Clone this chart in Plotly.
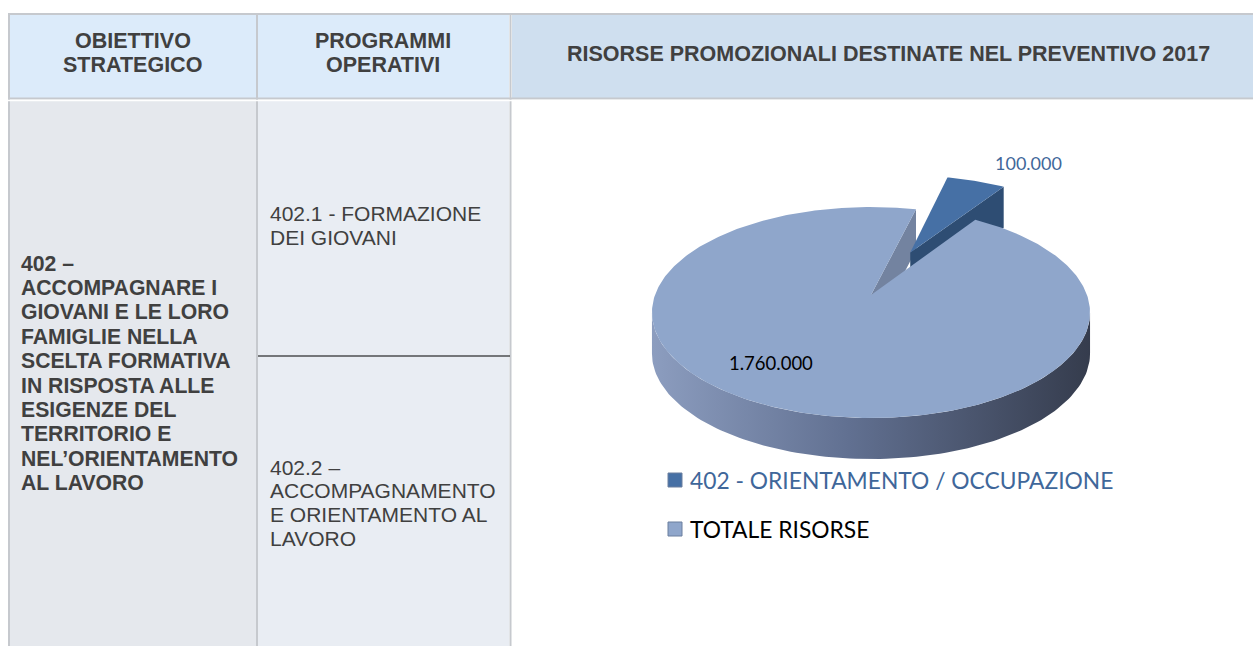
import numpy as np
import plotly.graph_objects as go

# ---------------- data ----------------
header_col1 = ["OBIETTIVO", "STRATEGICO"]
header_col2 = ["PROGRAMMI", "OPERATIVI"]
header_col3 = "RISORSE PROMOZIONALI DESTINATE NEL PREVENTIVO 2017"
objective_lines = ["402 –", "ACCOMPAGNARE I", "GIOVANI E LE LORO", "FAMIGLIE NELLA",
                   "SCELTA FORMATIVA", "IN RISPOSTA ALLE", "ESIGENZE DEL",
                   "TERRITORIO E", "NEL’ORIENTAMENTO", "AL LAVORO"]
program1_lines = ["402.1 - FORMAZIONE", "DEI GIOVANI"]
program2_lines = ["402.2 –", "ACCOMPAGNAMENTO", "E ORIENTAMENTO AL", "LAVORO"]
pie_labels = ["402 - ORIENTAMENTO / OCCUPAZIONE", "TOTALE RISORSE"]
pie_values = [100000, 1760000]

# ---------------- style ----------------
W, H = 1253, 646
TXT = "#404040"
TABLE_FONT = "Liberation Sans, Arial, sans-serif"
CHART_FONT = "Lato, Carlito, Calibri, sans-serif"
top_colors = ["#4670A5", "#8FA6CB"]
cut_colors = ["#2E4D73", "#7383A0"]
label_colors = ["#3F679A", "#000000"]

# pie geometry (3D projection)
CX, CY, A, B, K, D = 871, 295, 216, 102.6, 0.166, 41
ROT = 14.0          # start angle, degrees clockwise from 12 o'clock
EXPLODE = [0.486, 0.0]


def proj(X, Z):
    s = 1.0 / (1.0 + K * Z)
    return CX + A * X * s, CY - B * Z * s


def pt(t_deg, off=(0.0, 0.0), r=1.0):
    t = np.radians(t_deg)
    return proj(r * np.sin(t) + off[0], r * np.cos(t) + off[1])


def arc(t0, t1, off=(0.0, 0.0), n=120):
    ts = np.linspace(t0, t1, n)
    xs, ys = zip(*[pt(t, off) for t in ts])
    return list(xs), list(ys)


fig = go.Figure()

total = float(sum(pie_values))
angles = []
a0 = ROT
for v in pie_values:
    span = 360.0 * v / total
    angles.append((a0, a0 + span))
    a0 += span

offsets = []
for (t0, t1), e in zip(angles, EXPLODE):
    m = np.radians((t0 + t1) / 2)
    offsets.append((e * np.sin(m), e * np.cos(m)))

# --- big slice (index 1): outer side face with gradient
sil = np.degrees(np.arccos(-K))  # silhouette angle
bx, by = arc(sil, 360 - sil)
fig.add_trace(go.Scatter(
    x=bx + bx[::-1], y=by + [y + D for y in by[::-1]],
    fill="toself", mode="lines", line=dict(width=0),
    fillgradient=dict(type="horizontal",
                      colorscale=[[0, "#8C9DBF"], [0.45, "#617091"], [1, "#353C4D"]]),
    hoverinfo="skip", showlegend=False))

# --- big slice visible cut face (edge at its end angle)
t_edge = angles[1][1]
cx0, cy0 = proj(0, 0)
ex, ey = pt(t_edge)
fig.add_trace(go.Scatter(
    x=[cx0, ex, ex, cx0, cx0], y=[cy0, ey, ey + D, cy0 + D, cy0],
    fill="toself", mode="lines", line=dict(width=0), fillcolor=cut_colors[1],
    hoverinfo="skip", showlegend=False))

# --- small slice (index 0): cut face at its end edge, then top
off0 = offsets[0]
apx, apy = proj(*off0)
ox, oy = pt(angles[0][1], off0)
fig.add_trace(go.Scatter(
    x=[apx, ox, ox, apx, apx], y=[apy, oy, oy + D, apy + D, apy],
    fill="toself", mode="lines", line=dict(width=0), fillcolor=cut_colors[0],
    hoverinfo="skip", showlegend=False))
sx, sy = arc(angles[0][0], angles[0][1], off0, 40)
fig.add_trace(go.Scatter(
    x=[apx] + sx + [apx], y=[apy] + sy + [apy],
    fill="toself", mode="lines", line=dict(width=0), fillcolor=top_colors[0],
    hoverinfo="skip", showlegend=False))

# --- big slice top face
tx, ty = arc(angles[1][0], angles[1][1], offsets[1], 400)
fig.add_trace(go.Scatter(
    x=[cx0] + tx + [cx0], y=[cy0] + ty + [cy0],
    fill="toself", mode="lines", line=dict(width=0), fillcolor=top_colors[1],
    hoverinfo="skip", showlegend=False))


def fmt(v):
    return f"{v:,}".replace(",", ".")


annotations = []
# data labels
annotations.append(dict(x=1028, y=163, text=fmt(pie_values[0]), showarrow=False,
                        font=dict(family=CHART_FONT, size=18, color=label_colors[0])))
annotations.append(dict(x=771, y=363, text=fmt(pie_values[1]), showarrow=False,
                        font=dict(family=CHART_FONT, size=18.5, color=label_colors[1])))

# legend
shapes = []
leg_y = [480, 529]
for lab, col, tcol, yy in zip(pie_labels, top_colors, label_colors, leg_y):
    shapes.append(dict(type="rect", xref="x", yref="y", x0=668, x1=682, y0=yy - 7, y1=yy + 7,
                       fillcolor=col, line=dict(color="#6B7F9E", width=1), layer="above"))
    annotations.append(dict(x=688, y=yy, text=lab, showarrow=False, xanchor="left",
                            font=dict(family=CHART_FONT, size=22.8, color=tcol)))

# ---------------- table ----------------
GRID = "#C6C9CE"
cells = [
    (10, 256, 15, 98, "#DCEBFA"),
    (258, 509, 15, 98, "#DCEBFA"),
    (512, W, 15, 98, "#CFDFEF"),
    (10, 256, 101, H, "#E5E8ED"),
    (258, 509, 101, H, "#E9EDF3"),
    (512, W, 101, H, "#FFFFFF"),
]
for x0, x1, y0, y1, c in cells:
    shapes.append(dict(type="rect", xref="x", yref="y", x0=x0, x1=x1, y0=y0, y1=y1,
                       fillcolor=c, line=dict(width=0), layer="below"))
for x in [9, 257, 510.5]:
    shapes.append(dict(type="line", xref="x", yref="y", x0=x, x1=x, y0=13, y1=H,
                       line=dict(color=GRID, width=2), layer="below"))
shapes.append(dict(type="line", xref="x", yref="y", x0=8, x1=W, y0=14, y1=14,
                   line=dict(color=GRID, width=2), layer="below"))
shapes.append(dict(type="line", xref="x", yref="y", x0=8, x1=W, y0=98.5, y1=98.5,
                   line=dict(color=GRID, width=2), layer="below"))
shapes.append(dict(type="line", xref="x", yref="y", x0=8, x1=W, y0=100.5, y1=100.5,
                   line=dict(color="#FFFFFF", width=1.5), layer="below"))
shapes.append(dict(type="line", xref="x", yref="y", x0=258, x1=510, y0=356, y1=356,
                   line=dict(color="#000000", width=1.2), layer="below"))

hfont = dict(family=TABLE_FONT, size=21.5, color=TXT, weight="bold")
for txt, yy in zip(header_col1, [41, 65]):
    annotations.append(dict(x=132.5, y=yy, text=txt, showarrow=False, font=hfont))
for txt, yy in zip(header_col2, [41, 65]):
    annotations.append(dict(x=383, y=yy, text=txt, showarrow=False, font=hfont))
annotations.append(dict(x=888, y=54, text=header_col3, showarrow=False, font=hfont))

bfont = dict(family=TABLE_FONT, size=21.2, color=TXT, weight="bold")
for i, txt in enumerate(objective_lines):
    annotations.append(dict(x=19, y=263 + 24.4 * i, text=txt, showarrow=False,
                            xanchor="left", font=bfont))
pfont = dict(family=TABLE_FONT, size=21, color=TXT)
for i, txt in enumerate(program1_lines):
    annotations.append(dict(x=268, y=213 + 24 * i, text=txt, showarrow=False,
                            xanchor="left", font=pfont))
for i, txt in enumerate(program2_lines):
    annotations.append(dict(x=268, y=467 + 23.7 * i, text=txt, showarrow=False,
                            xanchor="left", font=pfont))

for a in annotations:
    a.setdefault("xref", "x")
    a.setdefault("yref", "y")

fig.update_layout(
    width=W, height=H, margin=dict(l=0, r=0, t=0, b=0),
    paper_bgcolor="#FFFFFF", plot_bgcolor="rgba(0,0,0,0)",
    xaxis=dict(range=[0, W], visible=False, fixedrange=True),
    yaxis=dict(range=[H, 0], visible=False, fixedrange=True),
    shapes=shapes, annotations=annotations, showlegend=False,
)

fig.write_html("out.html", config={"displayModeBar": False},
               post_script="document.body.style.margin='0';document.body.style.overflow='hidden';")
